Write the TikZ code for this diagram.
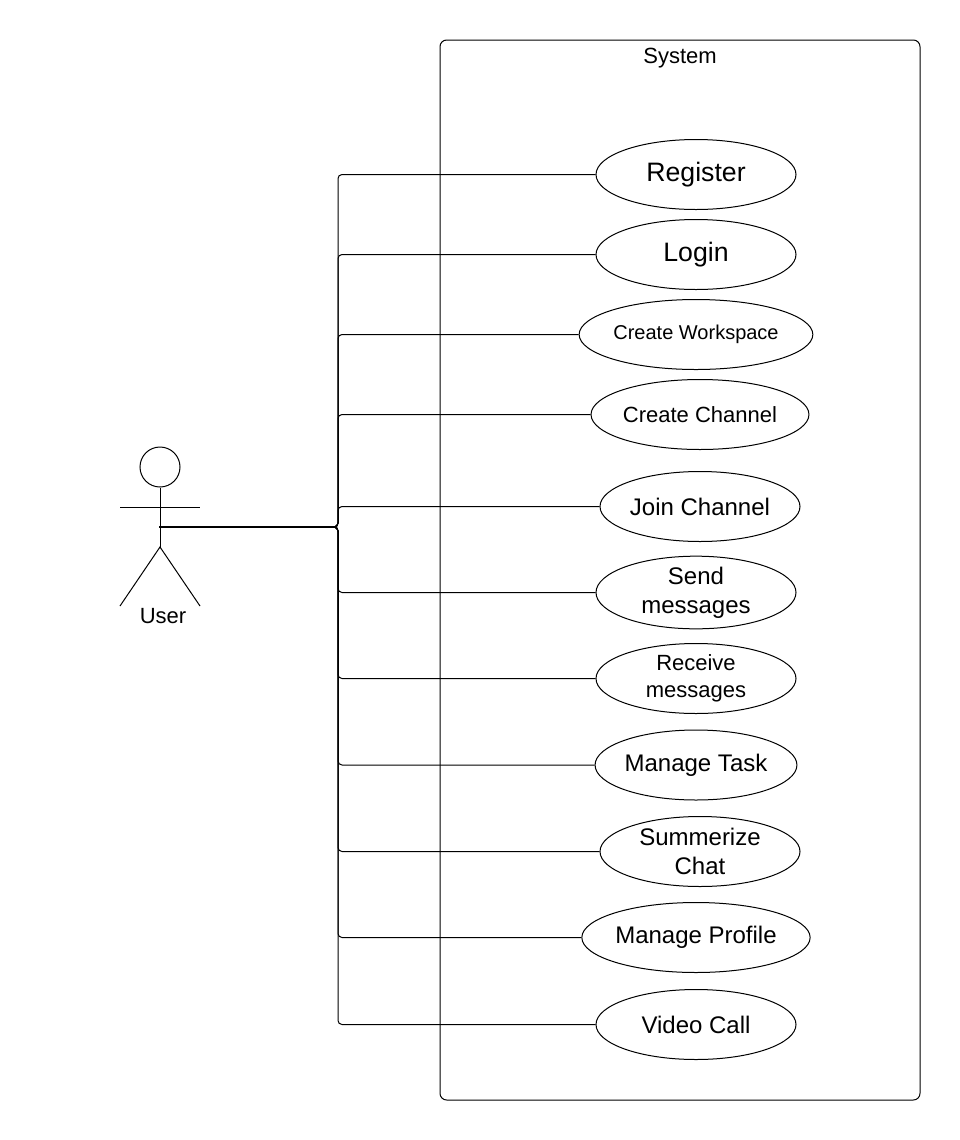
\documentclass[tikz,border=0pt]{standalone}
\usepackage{fontspec}
\setmainfont{Liberation Sans}
\usetikzlibrary{shapes.geometric}
\tikzset{
  usecase/.style={draw,ellipse,minimum width=150pt,minimum height=52.5pt,inner sep=0pt,align=center,line width=0.75pt},
  link/.style={rounded corners=3pt,line width=0.75pt},
  stick/.style={line width=0.75pt}
}
\newcommand{\fs}[2]{\fontsize{#1}{#2}\selectfont}
\begin{document}
\begin{tikzpicture}[x=0.75pt,y=0.75pt,yscale=-1,xscale=1]
\useasboundingbox (0,0) rectangle (960,1140);

%Shape: System boundary
\node (system) [draw,rounded corners=5pt,line width=0.75pt,minimum width=360pt,minimum height=795pt,inner sep=0pt] at (680,570) {};
% Text Node
\node (systemlabel) [font=\fs{16.5}{20}] at (680,58) {System};

%Shape: Use cases
\node (register) [usecase,font=\fs{20}{24}] at (696,174.5) {Register};
\node (login) [usecase,font=\fs{20}{24}] at (696,254.5) {Login};
\node (workspace) [usecase,font=\fs{15}{18}] at (696,334.5) {Create Workspace};
\node (channel) [usecase,font=\fs{16.5}{20}] at (700,414.5) {Create Channel};
\node (join) [usecase,font=\fs{18}{21.75}] at (700,506.5) {Join Channel};
\node (send) [usecase,font=\fs{18}{21.75}] at (696,592.5) {Send\\messages};
\node (receive) [usecase,font=\fs{16.5}{20.25}] at (696,678.5) {Receive\\messages};
\node (task) [usecase,font=\fs{18}{21.75}] at (696,765) {Manage Task};
\node (summary) [usecase,font=\fs{18}{21.75}] at (700,851.5) {Summerize\\Chat};
\node (profile) [usecase,font=\fs{18}{21.75}] at (696,937.5) {Manage Profile};
\node (video) [usecase,font=\fs{18}{21.75}] at (696,1024.5) {Video Call};

%Shape: Actor
\node (head) [draw,circle,minimum size=30pt,inner sep=0pt,line width=0.75pt] at (160,467) {};
\coordinate (armleft) at (120,507);
\coordinate (armright) at (200,507);
\coordinate (hip) at (160,547);
\coordinate (footleft) at (120,606);
\coordinate (footright) at (200,606);
\coordinate (hub) at (159,527);
\draw [stick] (head.south) -- (hip);
\draw [stick] (armleft) -- (armright);
\draw [stick] (footleft) -- (hip) -- (footright);
% Text Node
\node (user) [font=\fs{16.5}{20}] at (163,616) {User};

%Straight Lines: Actor to use cases
\draw [link] (hub) -- ++(179,0) |- (register.west);
\draw [link] (hub) -- ++(179,0) |- (login.west);
\draw [link] (hub) -- ++(179,0) |- (workspace.west);
\draw [link] (hub) -- ++(179,0) |- (channel.west);
\draw [link] (hub) -- ++(179,0) |- (join.west);
\draw [link] (hub) -- ++(179,0) |- (send.west);
\draw [link] (hub) -- ++(179,0) |- (receive.west);
\draw [link] (hub) -- ++(179,0) |- (task.west);
\draw [link] (hub) -- ++(179,0) |- (summary.west);
\draw [link] (hub) -- ++(179,0) |- (profile.west);
\draw [link] (hub) -- ++(179,0) |- (video.west);
\end{tikzpicture}
\end{document}
